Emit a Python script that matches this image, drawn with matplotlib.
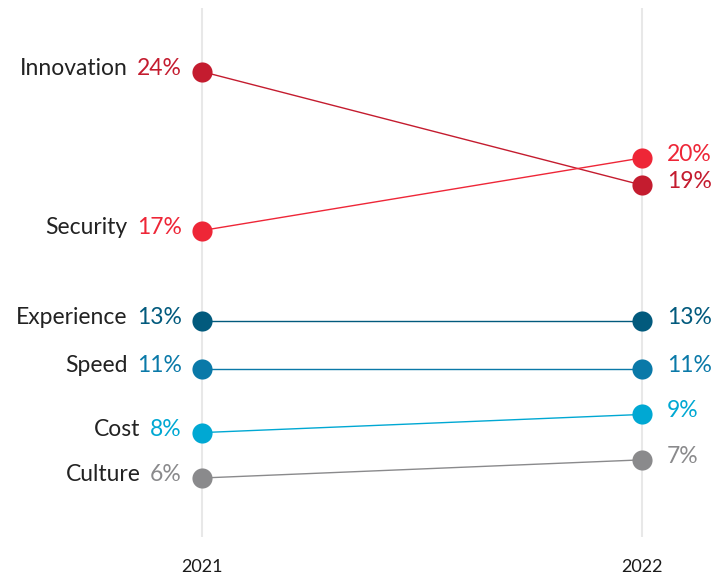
import matplotlib.pyplot as plt

plt.rcParams['font.family'] = ['Lato', 'DejaVu Sans']

years = [2021, 2022]
categories = ['Innovation', 'Security', 'Experience', 'Speed', 'Cost', 'Culture']
values_2021 = [24.0, 17.0, 13.0, 10.9, 8.1, 6.1]
values_2022 = [19.0, 20.2, 13.0, 10.9, 8.9, 6.9]
colors = ['#c41c2f', '#ee2637', '#025a7d', '#0a79a8', '#00a8d3', '#8a8a8c']

fig = plt.figure(figsize=(7.17, 5.79), dpi=100)
ax = fig.add_axes([0, 0.0725, 1, 0.9136])
ax.set_xlim(2020.541, 2022.170)
ax.set_ylim(3.5, 26.8)

for yr in years:
    ax.axvline(yr, color='#e8e8e8', lw=1.5, zorder=0)

for cat, v1, v2, c in zip(categories, values_2021, values_2022, colors):
    ax.plot(years, [v1, v2], color=c, lw=1, zorder=2)
    ax.plot(years, [v1, v2], 'o', color=c, ms=14.5, mec='none', zorder=3)
    # left side: value then category name
    pct = ax.annotate(f'{round(v1)}%', xy=(years[0], v1), xytext=(-14.5, 2.5),
                      textcoords='offset points', ha='right', va='center',
                      color=c, fontsize=16.5)
    ax.annotate(cat, xy=(0, 0.5), xycoords=pct, xytext=(-7, 0),
                textcoords='offset points', ha='right', va='center',
                color='#222222', fontsize=16.5)
    # right side value
    ax.annotate(f'{round(v2)}%', xy=(years[1], v2), xytext=(18, 2.5),
                textcoords='offset points', ha='left', va='center',
                color=c, fontsize=16.5)

ax.set_xticks(years)
ax.set_xticklabels([str(y) for y in years], fontsize=13, color='#1a1a1a')
ax.tick_params(axis='x', length=0, pad=16)
ax.set_yticks([])
for s in ax.spines.values():
    s.set_visible(False)

fig.savefig('out.png', dpi=100)
